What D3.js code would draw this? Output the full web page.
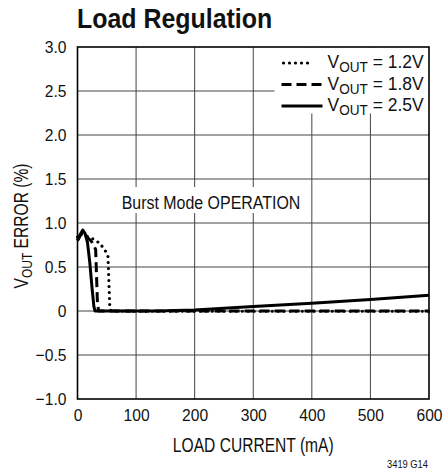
<!DOCTYPE html>
<html>
<head>
<meta charset="utf-8">
<script src="https://cdn.jsdelivr.net/npm/d3@7"></script>
<style>
  body { margin: 0; background: #fff; }
  svg text { font-family: "Liberation Sans Narrow", "Arial Narrow", "Liberation Sans", sans-serif; fill: #111; }
</style>
</head>
<body>
<svg id="chart" width="448" height="471"></svg>
<script>
// tick labels
var xTicks = [0, 100, 200, 300, 400, 500, 600];
var yTicks = [-1.0, -0.5, 0, 0.5, 1.0, 1.5, 2.0, 2.5, 3.0];

// V_OUT = 1.2V (dotted)
var current12 = [0, 5, 12, 24, 38, 47, 52, 53, 54, 55, 57, 100, 200, 300, 400, 500, 600];
var error12 = [0.84, 0.88, 0.86, 0.83, 0.77, 0.69, 0.62, 0.45, 0.25, 0.07, 0, -0.003, -0.003, -0.003, -0.003, -0.003, -0.003];

// V_OUT = 1.8V (dashed)
var current18 = [0, 5, 9, 15, 24, 31, 32, 33, 34, 36, 100, 200, 300, 400, 500, 600];
var error18 = [0.8, 0.86, 0.9, 0.85, 0.79, 0.7, 0.5, 0.3, 0.1, 0, 0, 0, 0, 0, 0, 0];

// V_OUT = 2.5V (solid)
var current25 = [0, 4, 9, 13, 17, 21, 25, 28, 30, 100, 150, 200, 300, 400, 500, 600];
var error25 = [0.8, 0.86, 0.92, 0.88, 0.78, 0.55, 0.25, 0.05, 0, 0, 0.002, 0.012, 0.05, 0.087, 0.13, 0.178];

var seriesNames = ['V_OUT = 1.2V', 'V_OUT = 1.8V', 'V_OUT = 2.5V'];

var margin = { top: 47, right: 19, bottom: 72, left: 77.5 };
var svg = d3.select('#chart');
var width = 448 - margin.left - margin.right;
var height = 471 - margin.top - margin.bottom;

var x = d3.scaleLinear().domain([0, 600]).range([0, width]);
var y = d3.scaleLinear().domain([-1, 3]).range([height, 0]);

// condensed look: squeeze the glyphs horizontally
function narrowText(parent, tx, ty, k, extra) {
  return parent.append('text')
    .attr('transform', 'translate(' + tx + ',' + ty + ')' + (extra || '') + ' scale(' + k + ',1)');
}

var g = svg.append('g')
  .attr('transform', 'translate(' + margin.left + ',' + margin.top + ')');

// grid
g.append('g')
  .attr('class', 'grid')
  .selectAll('line')
  .data(xTicks.slice(1, -1))
  .enter().append('line')
  .attr('x1', function(d) { return x(d); })
  .attr('x2', function(d) { return x(d); })
  .attr('y1', 0).attr('y2', height)
  .attr('stroke', '#444').attr('stroke-width', 1);

g.append('g')
  .attr('class', 'grid')
  .selectAll('line')
  .data(yTicks.slice(1, -1))
  .enter().append('line')
  .attr('x1', 0).attr('x2', width)
  .attr('y1', function(d) { return y(d); })
  .attr('y2', function(d) { return y(d); })
  .attr('stroke', '#444').attr('stroke-width', 1);

// axes (labels only, frame drawn separately)
var fmtY = function(d) {
  if (d === 0) return '0';
  return (d < 0 ? '\u2212' : '') + Math.abs(d).toFixed(1);
};

var xAxis = d3.axisBottom(x).tickValues(xTicks).tickSize(0).tickPadding(10);
var yAxis = d3.axisLeft(y).tickValues(yTicks).tickSize(0).tickPadding(11).tickFormat(fmtY);

g.append('g')
  .attr('transform', 'translate(0,' + height + ')')
  .call(xAxis)
  .call(function(s) { s.select('.domain').remove(); })
  .selectAll('text')
  .style('font-size', '17px')
  .attr('transform', 'scale(0.92,1)');

g.append('g')
  .call(yAxis)
  .call(function(s) { s.select('.domain').remove(); })
  .selectAll('text')
  .style('font-size', '17px')
  .attr('x', -12)
  .attr('transform', 'scale(0.92,1)');

// white boxes behind annotations
g.append('rect')
  .attr('x', 197).attr('y', 0.5)
  .attr('width', width - 197.5).attr('height', 66)
  .attr('fill', '#fff');

g.append('rect')
  .attr('x', 42).attr('y', 140)
  .attr('width', 182).attr('height', 26)
  .attr('fill', '#fff');

narrowText(g, 133.5, 161.5, 0.84)
  .attr('text-anchor', 'middle')
  .style('font-size', '19px')
  .text('Burst Mode OPERATION');

// curves
var seriesData = [
  { name: seriesNames[0], xs: current12, ys: error12, dash: '0,6', w: 3.2, cap: 'round' },
  { name: seriesNames[1], xs: current18, ys: error18, dash: '10,5', w: 3, cap: 'butt' },
  { name: seriesNames[2], xs: current25, ys: error25, dash: null, w: 3, cap: 'butt' }
];

var line = d3.line()
  .x(function(d) { return x(d[0]); })
  .y(function(d) { return y(d[1]); });

g.selectAll('path.curve')
  .data(seriesData)
  .enter().append('path')
  .attr('class', 'curve')
  .attr('d', function(s) { return line(d3.zip(s.xs, s.ys)); })
  .attr('fill', 'none')
  .attr('stroke', '#000')
  .attr('stroke-width', function(s) { return s.w; })
  .attr('stroke-linecap', function(s) { return s.cap; })
  .attr('stroke-linejoin', 'round')
  .attr('stroke-dasharray', function(s) { return s.dash; });

// frame
g.append('rect')
  .attr('x', 0).attr('y', 0)
  .attr('width', width).attr('height', height)
  .attr('fill', 'none')
  .attr('stroke', '#000')
  .attr('stroke-width', 1.6);

// legend
var legend = g.selectAll('g.legend')
  .data(seriesData)
  .enter().append('g')
  .attr('class', 'legend')
  .attr('transform', function(d, i) { return 'translate(204,' + (16 + i * 21.5) + ')'; });

legend.append('line')
  .attr('x1', function(d, i) { return i === 0 ? 2 : 0; })
  .attr('x2', function(d, i) { return i === 0 ? 30 : 41; })
  .attr('y1', 0).attr('y2', 0)
  .attr('stroke', '#000')
  .attr('stroke-width', function(s) { return s.w; })
  .attr('stroke-linecap', function(s) { return s.cap; })
  .attr('stroke-dasharray', function(s) { return s.dash; });

var lt = legend.append('text')
  .attr('transform', 'translate(46,5) scale(0.97,1)')
  .style('font-size', '18px');
lt.append('tspan').text('V');
lt.append('tspan').attr('dy', 4).style('font-size', '14px').text('OUT');
lt.append('tspan').attr('dy', -4).text(function(d) { return ' ' + d.name.split(' ').slice(1).join(' '); });

// axis titles
narrowText(svg, margin.left + width / 2, 452, 0.78)
  .attr('text-anchor', 'middle')
  .style('font-size', '20px')
  .text('LOAD CURRENT (mA)');

var yt = narrowText(svg, 28, 226, 0.8, ' rotate(-90)')
  .attr('text-anchor', 'middle')
  .style('font-size', '19.5px');
yt.append('tspan').text('V');
yt.append('tspan').attr('dy', 4).style('font-size', '15px').text('OUT');
yt.append('tspan').attr('dy', -4).text(' ERROR (%)');

// title
narrowText(svg, 77, 28, 0.89)
  .style('font-size', '28px')
  .style('font-weight', 'bold')
  .text('Load Regulation');

narrowText(svg, 428, 468, 0.85)
  .attr('text-anchor', 'end')
  .style('font-size', '11px')
  .text('3419 G14');
</script>
</body>
</html>
